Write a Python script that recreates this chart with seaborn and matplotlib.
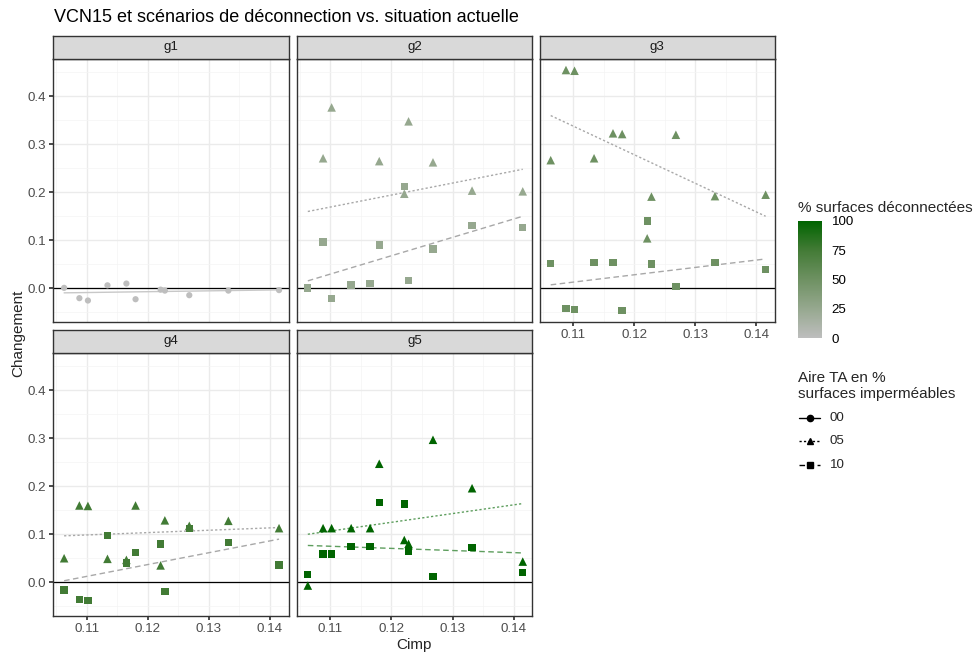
import numpy as np
import pandas as pd
import seaborn as sns
import matplotlib.pyplot as plt
from matplotlib.colors import LinearSegmentedColormap, Normalize
from matplotlib.cm import ScalarMappable
from matplotlib.lines import Line2D

# --- data ---
groups = ['g1', 'g2', 'g3', 'g4', 'g5']
pct_deconn = [0, 25, 50, 75, 100]
aire_levels = ['00', '05', '10']

cimp = [0.1063, 0.1088, 0.1102, 0.1134, 0.1165, 0.1180, 0.1221, 0.1228, 0.1268, 0.1332, 0.1415]

g1_00 = [0.0007, -0.0208, -0.0257, 0.006, 0.0097, -0.023, -0.003, -0.005, -0.0146, -0.005, -0.004]
g2_05 = [np.nan, 0.271, 0.377, np.nan, np.nan, 0.265, 0.197, 0.348, 0.2625, 0.2035, 0.202]
g2_10 = [0.0007, 0.096, -0.022, 0.007, 0.0104, 0.090, 0.212, 0.016, 0.082, 0.131, 0.127]
g3_05 = [0.267, 0.455, 0.4535, 0.271, 0.323, 0.3215, 0.104, 0.191, 0.320, 0.192, 0.195]
g3_10 = [0.052, -0.043, -0.044, 0.054, 0.054, -0.046, 0.140, 0.0507, 0.003, 0.0535, 0.0396]
g4_05 = [0.050, 0.160, 0.159, 0.0487, 0.0466, 0.160, 0.035, 0.129, 0.1176, 0.128, 0.1127]
g4_10 = [-0.016, -0.0355, -0.0376, 0.0974, 0.0397, 0.0626, 0.080, -0.0195, 0.112, 0.0828, 0.0355]
g5_05 = [-0.007, 0.1127, 0.1127, 0.1127, 0.1127, 0.247, 0.088, 0.080, 0.297, 0.196, 0.043]
g5_10 = [0.0167, 0.059, 0.059, 0.0738, 0.0738, 0.166, 0.163, 0.0647, 0.0118, 0.0724, 0.0209]

# trend lines (start / end value over the Cimp range)
trend_x = [0.1063, 0.1415]
g1_trend_00 = [-0.0097, -0.0035]
g2_trend_05 = [0.160, 0.248]
g2_trend_10 = [0.0153, 0.150]
g3_trend_05 = [0.360, 0.150]
g3_trend_10 = [0.007, 0.061]
g4_trend_05 = [0.0967, 0.114]
g4_trend_10 = [0.003, 0.0898]
g5_trend_05 = [0.100, 0.164]
g5_trend_10 = [0.0766, 0.061]

points = {
    'g1': {'00': g1_00},
    'g2': {'05': g2_05, '10': g2_10},
    'g3': {'05': g3_05, '10': g3_10},
    'g4': {'05': g4_05, '10': g4_10},
    'g5': {'05': g5_05, '10': g5_10},
}
trends = {
    'g1': {'00': g1_trend_00},
    'g2': {'05': g2_trend_05, '10': g2_trend_10},
    'g3': {'05': g3_trend_05, '10': g3_trend_10},
    'g4': {'05': g4_trend_05, '10': g4_trend_10},
    'g5': {'05': g5_trend_05, '10': g5_trend_10},
}

rows = []
for g, pct in zip(groups, pct_deconn):
    for aire, vals in points[g].items():
        for x, y in zip(cimp, vals):
            rows.append({'group': g, 'pct': pct, 'aire': aire, 'Cimp': x, 'Changement': y})
df = pd.DataFrame(rows).dropna()

# --- styling ---
sns.set_theme(style='white')
plt.rcParams['font.family'] = ['Liberation Sans', 'DejaVu Sans']

cmap = LinearSegmentedColormap.from_list(
    'grey_green', ['#bebebe', '#96a88f', '#6e9162', '#437b36', '#006400'])
norm = Normalize(0, 100)
markers = {'00': 'o', '05': '^', '10': 's'}
marker_sizes = {'00': 20, '05': 38, '10': 28}
dash_styles = {'00': '-', '05': (0, (1.6, 1.6)), '10': (0, (4, 2.5))}
line_colors = ['#c8c8c8', '#a8a8a8', '#a8a8a8', '#a8a8a8', '#5e9e5e']

W, H = 976, 655
fig = plt.figure(figsize=(W / 100, H / 100), dpi=100)

col_left = [53, 296.7, 539.6]
panel_w = 235.5
row_top = [59, 353]
panel_h = 263
strip_h = 23.5
xlim = (0.10448, 0.14305)
ylim = (-0.0705, 0.478)
tick_fs = 9.6

layout = [(0, 0), (0, 1), (0, 2), (1, 0), (1, 1)]

for i, g in enumerate(groups):
    r, c = layout[i]
    left = col_left[c] / W
    bottom = 1 - (row_top[r] + panel_h) / H
    ax = fig.add_axes([left, bottom, panel_w / W, panel_h / H])
    ax.set_facecolor('white')

    # grid
    ax.set_xticks([0.11, 0.12, 0.13, 0.14])
    ax.set_xticks([0.105, 0.115, 0.125, 0.135], minor=True)
    ax.set_yticks([0.0, 0.1, 0.2, 0.3, 0.4])
    ax.set_yticks([-0.05, 0.05, 0.15, 0.25, 0.35, 0.45], minor=True)
    ax.grid(which='major', color='#ebebeb', linewidth=1.0)
    ax.grid(which='minor', color='#f4f4f4', linewidth=0.5)
    ax.set_axisbelow(True)

    ax.axhline(0, color='black', linewidth=0.9, zorder=1.5)

    # trend lines
    for aire, vals in trends[g].items():
        ax.plot(trend_x, vals, color=line_colors[i], linestyle=dash_styles[aire],
                linewidth=1.0, zorder=2)

    sub = df[df['group'] == g]
    sns.scatterplot(data=sub, x='Cimp', y='Changement', hue='pct', palette=cmap,
                    hue_norm=(0, 100), style='aire', markers=markers,
                    size='aire', sizes=marker_sizes,
                    linewidth=0, legend=False, ax=ax, zorder=3)

    ax.set_xlim(*xlim)
    ax.set_ylim(*ylim)
    ax.set_xlabel('')
    ax.set_ylabel('')
    for sp in ax.spines.values():
        sp.set_color('#333333')
        sp.set_linewidth(1.0)

    ax.tick_params(which='major', length=3, color='#333333', labelsize=tick_fs,
                   labelcolor='#4d4d4d', pad=2)
    ax.tick_params(which='minor', length=0)
    show_x = (r == 1) or (c == 2)
    show_y = (c == 0)
    ax.tick_params(axis='x', bottom=show_x, labelbottom=show_x)
    ax.tick_params(axis='y', left=show_y, labelleft=show_y)
    if show_x:
        ax.set_xticklabels(['0.11', '0.12', '0.13', '0.14'])
    if show_y:
        ax.set_yticklabels(['0.0', '0.1', '0.2', '0.3', '0.4'])

    # facet strip
    strip = ax.inset_axes([0, 1, 1, strip_h / panel_h])
    strip.set_facecolor('#d9d9d9')
    strip.set_xticks([])
    strip.set_yticks([])
    for sp in strip.spines.values():
        sp.set_color('#333333')
        sp.set_linewidth(1.0)
    strip.text(0.5, 0.5, g, ha='center', va='center', fontsize=tick_fs, color='#1a1a1a',
               transform=strip.transAxes)

# titles
fig.text(54 / W, 1 - 18 / H, 'VCN15 et scénarios de déconnection vs. situation actuelle',
         fontsize=13, ha='left', va='center', color='black')
fig.text(414 / W, 1 - 645 / H, 'Cimp', fontsize=11, ha='center', va='center')
fig.text(18 / W, 1 - 333 / H, 'Changement', fontsize=11, ha='center', va='center',
         rotation=90)

# colour legend
fig.text(798 / W, 1 - 207.7 / H, '% surfaces déconnectées', fontsize=11,
         ha='left', va='center')
cax = fig.add_axes([798 / W, 1 - 338.3 / H, 24 / W, 117.6 / H])
sm = ScalarMappable(norm=norm, cmap=cmap)
cb = fig.colorbar(sm, cax=cax, ticks=[0, 25, 50, 75, 100])
cb.outline.set_visible(False)
cax.yaxis.set_ticks_position('both')
cax.tick_params(direction='in', length=4, color='white', width=0.8,
                labelsize=tick_fs, labelcolor='black', pad=7, labelleft=False, labelright=True)

# shape / line legend
fig.text(798 / W, 1 - 386 / H, 'Aire TA en %\nsurfaces imperméables', fontsize=11,
         ha='left', va='center', linespacing=1.1)
leg_y = [418, 441, 465]
for aire, yy in zip(aire_levels, leg_y):
    yf = 1 - yy / H
    fig.add_artist(Line2D([799 / W, 820 / W], [yf, yf], transform=fig.transFigure,
                          color='black', linestyle=dash_styles[aire], linewidth=1.0))
    fig.add_artist(Line2D([809.5 / W], [yf], transform=fig.transFigure, color='black',
                          marker=markers[aire], markersize=4.5, linestyle='none'))
    fig.text(830 / W, yf, aire, fontsize=tick_fs, ha='left', va='center')

fig.savefig('out.png', dpi=100)
